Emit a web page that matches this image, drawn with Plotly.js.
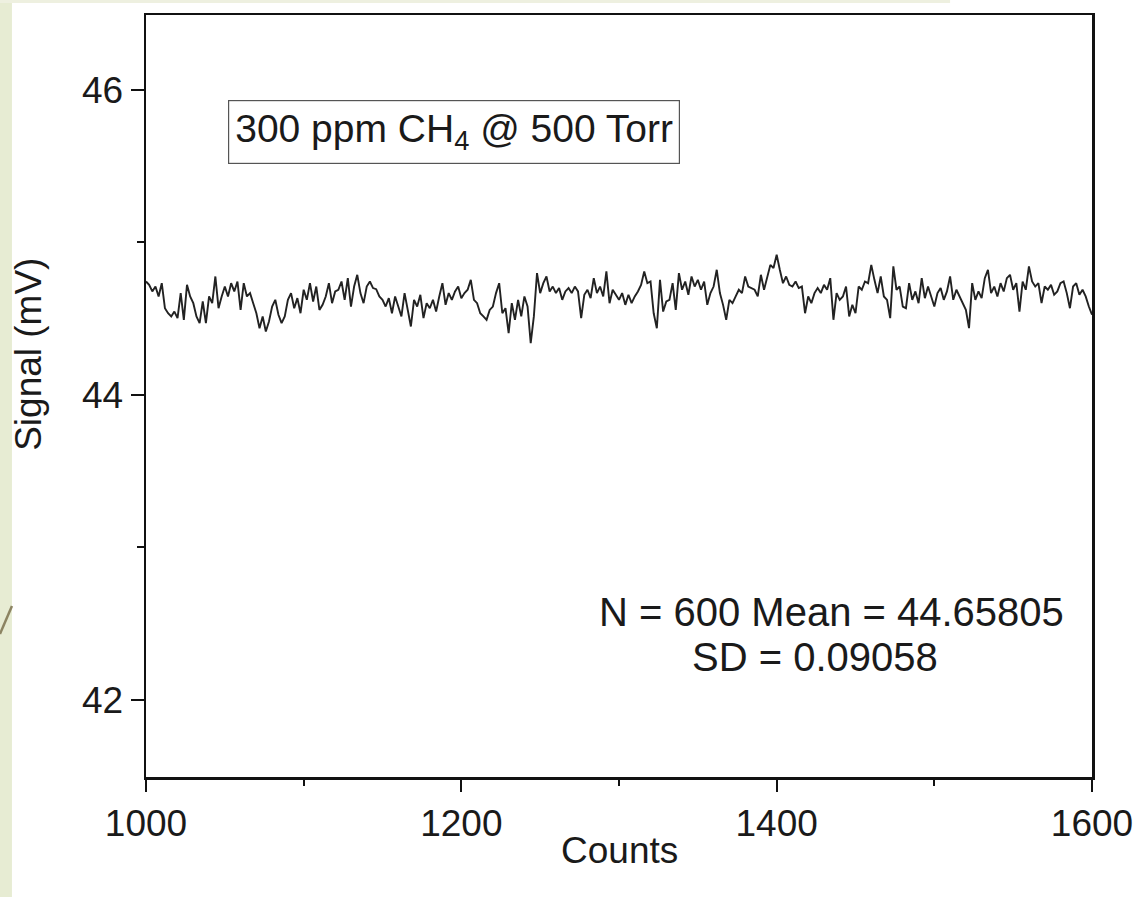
<!DOCTYPE html>
<html>
<head>
<meta charset="utf-8">
<script src="https://cdn.plot.ly/plotly-3.0.1.min.js"></script>
<style>
html,body{margin:0;padding:0;background:#ffffff;}
#chart{width:1140px;height:897px;}
</style>
</head>
<body>
<div id="chart"></div>
<script>
const counts = [
1000,1002,1004,1006,1008,1010,1012,1014,1016,1018,1020,1022,1024,1026,1028,1030,1032,1034,1036,1038,
1040,1042,1044,1046,1048,1050,1052,1054,1056,1058,1060,1062,1064,1066,1068,1070,1072,1074,1076,1078,
1080,1082,1084,1086,1088,1090,1092,1094,1096,1098,1100,1102,1104,1106,1108,1110,1112,1114,1116,1118,
1120,1122,1124,1126,1128,1130,1132,1134,1136,1138,1140,1142,1144,1146,1148,1150,1152,1154,1156,1158,
1160,1162,1164,1166,1168,1170,1172,1174,1176,1178,1180,1182,1184,1186,1188,1190,1192,1194,1196,1198,
1200,1202,1204,1206,1208,1210,1212,1214,1216,1218,1220,1222,1224,1226,1228,1230,1232,1234,1236,1238,
1240,1242,1244,1246,1248,1250,1252,1254,1256,1258,1260,1262,1264,1266,1268,1270,1272,1274,1276,1278,
1280,1282,1284,1286,1288,1290,1292,1294,1296,1298,1300,1302,1304,1306,1308,1310,1312,1314,1316,1318,
1320,1322,1324,1326,1328,1330,1332,1334,1336,1338,1340,1342,1344,1346,1348,1350,1352,1354,1356,1358,
1360,1362,1364,1366,1368,1370,1372,1374,1376,1378,1380,1382,1384,1386,1388,1390,1392,1394,1396,1398,
1400,1402,1404,1406,1408,1410,1412,1414,1416,1418,1420,1422,1424,1426,1428,1430,1432,1434,1436,1438,
1440,1442,1444,1446,1448,1450,1452,1454,1456,1458,1460,1462,1464,1466,1468,1470,1472,1474,1476,1478,
1480,1482,1484,1486,1488,1490,1492,1494,1496,1498,1500,1502,1504,1506,1508,1510,1512,1514,1516,1518,
1520,1522,1524,1526,1528,1530,1532,1534,1536,1538,1540,1542,1544,1546,1548,1550,1552,1554,1556,1558,
1560,1562,1564,1566,1568,1570,1572,1574,1576,1578,1580,1582,1584,1586,1588,1590,1592,1594,1596,1598,
1600
];
const signal = [
44.743,44.721,44.678,44.710,44.645,44.732,44.568,44.535,44.514,44.546,44.503,44.667,44.492,44.721,44.645,44.601,44.514,44.470,44.612,44.470,
44.645,44.601,44.776,44.568,44.645,44.710,44.645,44.732,44.678,44.743,44.557,44.732,44.645,44.667,44.601,44.535,44.437,44.514,44.415,44.481,
44.579,44.623,44.525,44.470,44.514,44.623,44.667,44.568,44.634,44.535,44.689,44.623,44.732,44.612,44.710,44.557,44.590,44.645,44.732,44.601,
44.678,44.689,44.743,44.623,44.765,44.579,44.710,44.787,44.667,44.601,44.710,44.743,44.700,44.693,44.645,44.623,44.579,44.634,44.535,44.645,
44.579,44.514,44.667,44.546,44.448,44.623,44.579,44.656,44.503,44.601,44.568,44.623,44.546,44.645,44.732,44.590,44.667,44.623,44.678,44.710,
44.634,44.667,44.689,44.754,44.623,44.601,44.535,44.514,44.492,44.557,44.579,44.667,44.732,44.535,44.568,44.404,44.601,44.492,44.623,44.514,
44.645,44.579,44.339,44.514,44.798,44.667,44.732,44.776,44.678,44.710,44.667,44.700,44.623,44.678,44.700,44.667,44.710,44.678,44.503,44.656,
44.689,44.634,44.765,44.667,44.710,44.645,44.809,44.601,44.689,44.656,44.623,44.667,44.590,44.656,44.601,44.645,44.678,44.721,44.809,44.732,
44.743,44.535,44.437,44.754,44.546,44.612,44.623,44.732,44.557,44.798,44.689,44.743,44.656,44.776,44.710,44.754,44.689,44.743,44.590,44.667,
44.710,44.820,44.667,44.590,44.492,44.623,44.601,44.645,44.689,44.667,44.776,44.710,44.700,44.689,44.645,44.787,44.689,44.765,44.852,44.831,
44.918,44.820,44.732,44.776,44.721,44.710,44.743,44.700,44.710,44.535,44.645,44.601,44.667,44.700,44.667,44.721,44.689,44.765,44.492,44.667,
44.623,44.645,44.710,44.514,44.590,44.535,44.710,44.689,44.743,44.732,44.852,44.754,44.667,44.776,44.645,44.623,44.503,44.842,44.689,44.710,
44.579,44.568,44.732,44.623,44.678,44.601,44.765,44.634,44.710,44.645,44.579,44.667,44.700,44.623,44.678,44.776,44.623,44.689,44.645,44.590,
44.557,44.437,44.732,44.623,44.678,44.634,44.765,44.820,44.667,44.710,44.645,44.732,44.678,44.765,44.787,44.689,44.732,44.546,44.743,44.689,
44.842,44.743,44.710,44.732,44.601,44.710,44.689,44.721,44.656,44.678,44.732,44.743,44.667,44.568,44.710,44.732,44.656,44.689,44.645,44.579,
44.525
];
const xTicks = [1000, 1200, 1400, 1600];
const yTicks = [42, 44, 46];
const xTitle = "Counts";
const yTitle = "Signal (mV)";
const labelText = "300 ppm CH<sub>4</sub> @ 500 Torr";
const statsLine1 = "N = 600 Mean = 44.65805";
const statsLine2 = "SD = 0.09058";

const FONT = "Liberation Sans, Arial, Helvetica, sans-serif";
const FS = 37;
const TXT = "#1a1a1a";

const trace = {
  x: counts, y: signal, type: "scatter", mode: "lines",
  line: {color: "#222222", width: 1.9},
  hoverinfo: "skip", showlegend: false
};

const layout = {
  width: 1140, height: 897,
  margin: {l: 146, r: 48, t: 15, b: 120, pad: 0},
  paper_bgcolor: "#ffffff", plot_bgcolor: "#ffffff",
  font: {family: FONT, size: FS, color: TXT},
  showlegend: false,
  xaxis: {
    range: [1000, 1600], tickvals: xTicks, ticktext: xTicks.map(String),
    ticks: "outside", ticklen: 12, tickwidth: 2, tickcolor: "#111",
    showline: true, linecolor: "#111", linewidth: 2.5, mirror: true,
    showgrid: false, zeroline: false,
    minor: {ticks: "outside", ticklen: 6, tickwidth: 2, tickcolor: "#111", dtick: 100, tick0: 1000, showgrid: false},
    tickfont: {family: FONT, size: FS, color: TXT}
  },
  yaxis: {
    range: [41.495, 46.49], tickvals: yTicks, ticktext: yTicks.map(String),
    ticks: "outside", ticklen: 13, tickwidth: 2, tickcolor: "#111",
    showline: true, linecolor: "#111", linewidth: 2.5, mirror: true,
    showgrid: false, zeroline: false,
    minor: {ticks: "outside", ticklen: 7, tickwidth: 2, tickcolor: "#111", dtick: 1, tick0: 42, showgrid: false},
    tickfont: {family: FONT, size: FS, color: TXT}
  },
  annotations: [
    {xref: "paper", yref: "paper", x: 0.5, y: -0.096, text: xTitle, showarrow: false,
     xanchor: "center", yanchor: "middle", font: {family: FONT, size: FS, color: TXT}},
    {xref: "paper", yref: "paper", x: -0.125, y: 0.555, text: yTitle, textangle: -90, showarrow: false,
     xanchor: "center", yanchor: "middle", font: {family: FONT, size: FS, color: TXT}},
    {xref: "x", yref: "y", x: 1195.3, y: 45.725, text: labelText, showarrow: false,
     font: {family: FONT, size: 39, color: TXT},
     bordercolor: "#555", borderwidth: 1.2, borderpad: 6, bgcolor: "rgba(255,255,255,0)"},
    {xref: "x", yref: "y", x: 1435, y: 42.577, text: statsLine1, showarrow: false,
     font: {family: FONT, size: 40, color: TXT}},
    {xref: "x", yref: "y", x: 1424.3, y: 42.282, text: statsLine2, showarrow: false,
     font: {family: FONT, size: 40, color: TXT}}
  ],
  shapes: [
    {type: "rect", xref: "paper", yref: "paper", x0: -0.1544, x1: -0.1417, y0: -0.16, y1: 1.02,
     fillcolor: "#e7ecd3", line: {width: 0}, layer: "below"},
    {type: "rect", xref: "paper", yref: "paper", x0: -0.1544, x1: 0.85, y0: 1.0158, y1: 1.02,
     fillcolor: "#eef0e0", line: {width: 0}, layer: "below"},
    {type: "line", xref: "paper", yref: "paper", x0: -0.1544, y0: 0.1877, x1: -0.1417, y1: 0.2244,
     line: {color: "#8c8462", width: 2.5}}
  ]
};

Plotly.newPlot("chart", [trace], layout, {displayModeBar: false, staticPlot: true});
</script>
</body>
</html>
